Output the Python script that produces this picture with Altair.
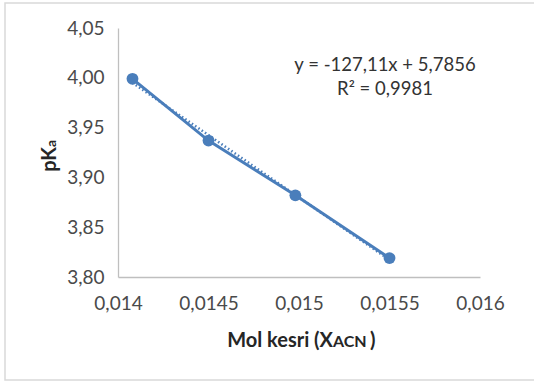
import altair as alt
import pandas as pd

# Data
mol_fraction = [0.01408, 0.0145, 0.01498, 0.0155]
pka_values = [3.999, 3.937, 3.882, 3.819]

x_ticks = [0.014, 0.0145, 0.015, 0.0155, 0.016]
y_ticks = [3.80, 3.85, 3.90, 3.95, 4.00, 4.05]

eq_line1 = ["y = -127,11x + 5,7856"]
eq_line2 = ["R\u00b2 = 0,9981"]
x_title_main = ["Mol kesri (X"]
x_title_sub = ["ACN"]
x_title_end = [")"]
y_title_main = ["pK"]
y_title_sub = ["a"]

BLUE = "#4a7ebb"
FONT = "Lato"
TXT = "#404040"
W, H = 362, 249
LEFT, TOP = 118, 28

df = pd.DataFrame({"x": mol_fraction, "pKa": pka_values})

xscale = alt.Scale(domain=[0.014, 0.016], nice=False, zero=False)
yscale = alt.Scale(domain=[3.80, 4.05], nice=False, zero=False)

xaxis = alt.Axis(
    values=x_ticks, title=None, grid=False, ticks=False,
    domainColor="#BFBFBF", domainWidth=1.3,
    labelExpr="replace(format(datum.value, '.4~f'), '.', ',')",
    labelFont=FONT, labelFontSize=19, labelColor="#4a4a4a", labelPadding=17,
    labelFlush=False,
)
yaxis = alt.Axis(
    values=y_ticks, title=None, grid=False, ticks=False,
    domainColor="#BFBFBF", domainWidth=1.3,
    labelExpr="replace(format(datum.value, '.2f'), '.', ',')",
    labelFont=FONT, labelFontSize=19, labelColor="#4a4a4a", labelPadding=14,
    labelFlush=False,
)

base = alt.Chart(df)

line = base.mark_line(color=BLUE, strokeWidth=3).encode(
    x=alt.X("x:Q", scale=xscale, axis=xaxis),
    y=alt.Y("pKa:Q", scale=yscale, axis=yaxis),
)

trend = base.transform_regression("x", "pKa", method="linear").mark_line(
    color=BLUE, strokeWidth=2.6, strokeDash=[1.5, 2.5]
).encode(
    x=alt.X("x:Q", scale=xscale),
    y=alt.Y("pKa:Q", scale=yscale),
)

points = base.mark_circle(color=BLUE, size=140, opacity=1).encode(
    x=alt.X("x:Q", scale=xscale),
    y=alt.Y("pKa:Q", scale=yscale),
)


def label(values, px, py, size, bold=False, align="center", angle=0, color=TXT):
    props = dict(font=FONT, fontSize=size, color=color, align=align,
                 baseline="alphabetic")
    if bold:
        props["fontWeight"] = "bold"
    if angle:
        props["angle"] = angle
    return alt.Chart(pd.DataFrame({"t": values})).mark_text(**props).encode(
        x=alt.value(px - LEFT), y=alt.value(py - TOP), text="t:N"
    )


border = alt.Chart(pd.DataFrame({"t": [0]})).mark_rect(
    fillOpacity=0, stroke="#D9D9D9", strokeWidth=1.5
).encode(
    x=alt.value(5 - LEFT), x2=alt.value(545 - LEFT),
    y=alt.value(3 - TOP), y2=alt.value(380 - TOP),
)

texts = [
    label(eq_line1, 385, 71, 18.5, color="#333333"),
    label(eq_line2, 385, 95, 18.5, color="#333333"),
    label(x_title_main, 333, 347, 20, bold=True, align="right", color="#262626"),
    label(x_title_sub, 333, 347, 16, bold=True, align="left", color="#262626"),
    label(x_title_end, 370, 347, 20, bold=True, align="left", color="#262626"),
    label(y_title_main, 56, 147, 20, bold=True, align="right", angle=270, color="#262626"),
    label(y_title_sub, 56, 147, 14, bold=True, align="left", angle=270, color="#262626"),
]

chart = alt.layer(border, trend, line, points, *texts).properties(
    width=W, height=H,
    padding={"left": LEFT, "top": TOP, "right": 534 - LEFT - W, "bottom": 382 - TOP - H},
    autosize=alt.AutoSizeParams(type="none"),
    background="white",
).configure_view(strokeWidth=0)

chart.save("out.html", embed_options={"renderer": "svg", "actions": False})
